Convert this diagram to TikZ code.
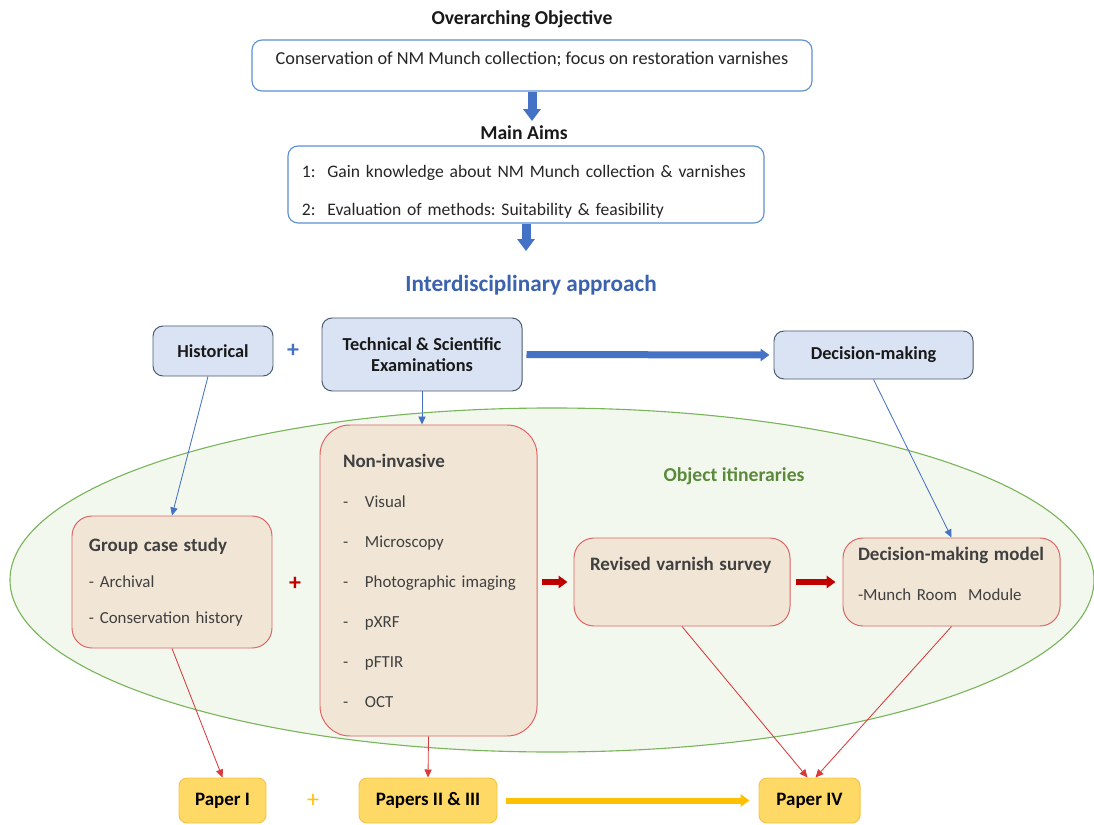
\documentclass[tikz,border=0pt]{standalone}
\usepackage{fontspec}
\setmainfont{Carlito}
\usetikzlibrary{shapes,arrows.meta,positioning}
\frenchspacing

\definecolor{aimblue}{HTML}{5B8FD3}
\definecolor{fatblue}{HTML}{4472C4}
\definecolor{topfill}{HTML}{DAE3F3}
\definecolor{topedge}{HTML}{4A5A70}
\definecolor{titleblue}{HTML}{3A62AE}
\definecolor{itinfill}{HTML}{F3F8EF}
\definecolor{itinedge}{HTML}{7AB55C}
\definecolor{itintext}{HTML}{5A8A3A}
\definecolor{casefill}{HTML}{F1E6D6}
\definecolor{caseedge}{HTML}{DE6464}
\definecolor{casetext}{HTML}{404040}
\definecolor{fatred}{HTML}{C00000}
\definecolor{thinred}{HTML}{D93A3A}
\definecolor{paperfill}{HTML}{FFD966}
\definecolor{paperedge}{HTML}{F5C342}
\definecolor{fatyellow}{HTML}{FFC000}

\newcommand{\casetitle}[1]{\mbox{\fontsize{13.5}{17}\selectfont\bfseries #1}}
\newcommand{\listitem}[1]{\mbox{\makebox[5.5mm][l]{-}#1}}

\begin{document}
\begin{tikzpicture}[
        x=0.25mm, y=-0.25mm,
        >={Triangle[length=2mm,width=1.8mm]},
        heading/.style={font=\fontsize{14}{17}\selectfont\bfseries, text=black!90},
        aimbox/.style={draw=aimblue, line width=0.8pt, rounded corners=2.5mm, fill=white,
                       text=black!85, font=\fontsize{13}{27}\selectfont},
        topbox/.style={draw=topedge, line width=0.7pt, fill=topfill, rounded corners=2.5mm,
                       align=center, font=\fontsize{13}{15}\selectfont\bfseries, text=black!90},
        casebox/.style={draw=caseedge, line width=0.7pt, fill=casefill, rounded corners=5mm,
                        align=left, text=casetext, font=\fontsize{12}{25.6}\selectfont},
        paperbox/.style={draw=paperedge, line width=0.7pt, fill=paperfill, rounded corners=2mm,
                         minimum height=11.25mm, font=\fontsize{13.5}{16}\selectfont\bfseries, text=black},
        plus/.style={font=\fontsize{17}{17}\selectfont\bfseries},
        bluepipe/.style={draw=fatblue, line width=2.25mm, -{Triangle[width=4.25mm,length=3mm]}},
        sidepipe/.style={line width=1.75mm, -{Triangle[width=3mm,length=2.2mm]}},
        blueline/.style={draw=fatblue, line width=0.6pt, ->},
        redline/.style={draw=thinred, line width=0.6pt, ->}
        ]
        \useasboundingbox (0,0) rectangle (1094,825);

        % Objective and aims
        \node[heading] (objhead) at (522,19) {Overarching Objective};
        \node[aimbox, minimum width=140mm, text height=6.25mm, text depth=6.5mm, inner ysep=0pt]
              (objective) at (532,65.5) {Conservation of NM Munch collection; focus on restoration varnishes};
        \node[heading] (aimshead) at (524,133) {Main Aims};
        \node[aimbox, align=left, text width=112mm, inner xsep=3.5mm, minimum height=18.75mm,
              font=\fontsize{12.5}{27}\selectfont]
              (aims) at (526,184.5) {\rule{0pt}{6.7mm}\mbox{1:~ Gain knowledge about NM Munch collection \& varnishes}\\
                                     \mbox{2:~ Evaluation of methods: Suitability \& feasibility}};
        \node[heading, font=\fontsize{16.5}{20}\selectfont\bfseries, text=titleblue]
              (approach) at (531,285) {Interdisciplinary approach};

        % Disciplines
        \node[topbox, minimum width=30mm, minimum height=12.5mm] (hist) at (213,351) {Historical};
        \node[plus, text=fatblue] (plusa) at (293,351) {+};
        \node[topbox, minimum width=50mm, minimum height=18.25mm] (tech) at (422,354.5) {Technical \& Scientific\\Examinations};
        \node[topbox, minimum width=49.75mm, minimum height=12mm] (decide) at (873.5,355) {Decision-making};

        % Object itineraries
        \node[ellipse, draw=itinedge, fill=itinfill, line width=0.8pt, inner sep=0pt,
              minimum width=271mm, minimum height=86mm] (itin) at (552,580) {};
        \node[text=itintext, font=\fontsize{14}{17}\selectfont\bfseries] (itinhead) at (734,476) {Object itineraries};

        \node[casebox, minimum width=50mm, minimum height=33mm, text width=41.5mm, inner xsep=4.25mm]
              (group) at (172,582) {\casetitle{Group case study}\\\mbox{- Archival}\\\mbox{- Conservation history}};
        \node[plus, text=fatred] (plusb) at (295,584) {+};
        \node[casebox, rounded corners=7.5mm, minimum width=54.25mm, minimum height=77.75mm,
              text width=42.75mm, inner xsep=5.75mm, font=\fontsize{12}{28.45}\selectfont]
              (noninv) at (428.5,580.5) {\casetitle{Non-invasive}\\
                                         \listitem{Visual}\\
                                         \listitem{Microscopy}\\
                                         \listitem{Photographic imaging}\\
                                         \listitem{pXRF}\\
                                         \listitem{pFTIR}\\
                                         \listitem{OCT}};
        \node[casebox, minimum width=54mm, text width=46mm, inner xsep=4mm,
              text height=8mm, text depth=14mm, inner ysep=0pt]
              (survey) at (682,582) {\casetitle{Revised varnish survey}};
        \node[casebox, minimum width=54.25mm, minimum height=22mm, text width=46.75mm, inner xsep=3.75mm,
              font=\fontsize{12}{28.45}\selectfont]
              (model) at (951.5,582) {\casetitle{Decision-making model}\\\mbox{-Munch Room~ Module}\rule[-4mm]{0pt}{4mm}};

        % Papers
        \node[paperbox, minimum width=21.75mm] (paperone) at (222.5,800.5) {Paper I};
        \node[plus, font=\fontsize{17}{17}\selectfont, text=fatyellow] (plusc) at (313,801) {+};
        \node[paperbox, minimum width=34.5mm] (papertwo) at (428,800.5) {Papers II \& III};
        \node[paperbox, minimum width=25.25mm] (paperfour) at (809.5,800.5) {Paper IV};

        % Block arrows
        \draw[bluepipe] (objective.south) -- (objective.south |- aimshead.north);
        \draw[bluepipe, shorten >=4.75mm] (aims.south) -- (aims.south |- approach.north);
        \draw[sidepipe, fatblue, shorten <=1mm, shorten >=1mm] (tech.east) -- (decide.west);
        \draw[sidepipe, fatred, line width=1.5mm, shorten <=1mm, shorten >=1.5mm] (noninv.east |- survey.center) -- (survey.west);
        \draw[sidepipe, fatred, line width=1.5mm, shorten <=1.25mm, shorten >=1.75mm] (survey.east) -- (model.west);
        \draw[sidepipe, fatyellow, line width=1.5mm, shorten <=2.25mm, shorten >=2.25mm] (papertwo.east) -- (paperfour.west);

        % Thin connectors
        \draw[blueline] ([xshift=-1.25mm]hist.south) -- (group.north);
        \draw[blueline] (tech.south) -- (tech.south |- noninv.north);
        \draw[blueline] (decide.south) -- (model.north);
        \draw[redline] (group.south) -- (paperone.north);
        \draw[redline] (noninv.south) -- (papertwo.north);
        \draw[redline] (survey.south) -- ([xshift=-0.5mm]paperfour.north);
        \draw[redline] (model.south) -- ([xshift=1.5mm]paperfour.north);
\end{tikzpicture}
\end{document}
